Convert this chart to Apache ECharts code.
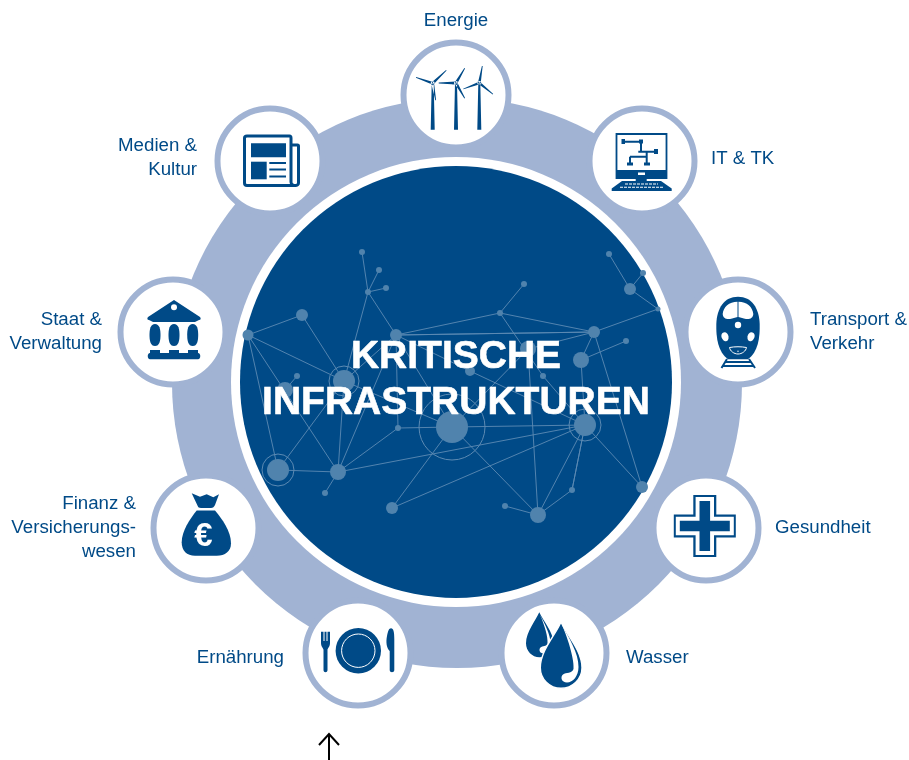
<!DOCTYPE html>
<html>
<head>
<meta charset="utf-8">
<title>Kritische Infrastrukturen</title>
<script src="https://cdn.jsdelivr.net/npm/echarts@6/dist/echarts.min.js"></script>
<style>
html, body { margin: 0; padding: 0; background: #fff; }
#main { width: 909px; height: 760px; }
</style>
</head>
<body>
<div id="main"></div>
<script>
// sectors round the ring, clockwise from the top
var sectors = ['Energie', 'IT & TK', 'Transport &\nVerkehr', 'Gesundheit', 'Wasser', 'Ernährung', 'Finanz &\nVersicherungs-\nwesen', 'Staat &\nVerwaltung', 'Medien &\nKultur'];
var hubX = [456, 642, 738, 706, 554, 358, 206, 173, 270];
var hubY = [95, 161, 332, 528, 653, 653, 528, 332, 161];
var labelX = [456, 711, 810, 775, 626, 284, 136, 102, 197];
var labelY = [21, 159, 332, 528, 658, 658, 528, 332, 158];
var labelSide = ['center', 'left', 'left', 'left', 'left', 'right', 'right', 'right', 'right'];

var titleLines = ['KRITISCHE', 'INFRASTRUKTUREN'];

// network inside the big circle
var nodeX = [362, 379, 386, 368, 396, 302, 248, 344, 297, 285, 278, 338, 325, 392, 398, 452, 524, 500, 594, 626, 581, 528, 543, 470, 585, 538, 505, 572, 642, 658, 630, 609, 643];
var nodeY = [252, 270, 288, 292, 335, 315, 335, 381, 376, 390, 470, 472, 493, 508, 428, 427, 284, 313, 332, 341, 360, 349, 376, 371, 425, 515, 506, 490, 487, 309, 289, 254, 273];
var nodeR = [3, 3, 3, 3, 6, 6, 5.5, 11, 3, 8, 11, 8, 3, 6, 3, 16, 3, 3, 6, 3, 8, 8, 3, 5, 11, 8, 3, 3, 6, 2.5, 6, 3, 3];
var nodeHalo = [0, 0, 0, 0, 0, 0, 0, 15, 0, 0, 16, 0, 0, 0, 0, 33, 0, 0, 0, 0, 0, 0, 0, 0, 16, 0, 0, 0, 0, 0, 0, 0, 0];
var linkFrom = [0, 1, 2, 3, 6, 5, 6, 6, 6, 10, 10, 7, 12, 11, 11, 11, 13, 13, 4, 4, 17, 17, 17, 4, 4, 23, 7, 14, 4, 7, 14, 21, 15, 15, 25, 25, 25, 27, 27, 24, 18, 28, 18, 29, 30, 30, 18, 20, 20, 18, 22, 9, 4];
var linkTo = [3, 3, 3, 4, 5, 7, 7, 10, 11, 11, 7, 11, 11, 14, 24, 4, 15, 24, 17, 18, 18, 16, 22, 23, 15, 24, 15, 15, 7, 3, 4, 15, 24, 25, 24, 21, 26, 25, 24, 27, 28, 24, 29, 30, 31, 32, 20, 19, 24, 21, 24, 8, 18];

var INK = '#004a87';
var RING = '#a1b3d3';
var NODE = '#5083ad';
var EDGE = '#5c8ab3';

function dark(d) { return { d: d, fill: INK }; }
function white(d) { return { d: d, fill: '#fff' }; }
function line(d, w, color, dash) { return { d: d, stroke: color || INK, w: w, dash: dash }; }
function circle(x, y, r) { return 'M' + (x - r) + ',' + y + 'A' + r + ',' + r + ',0,1,1,' + (x + r) + ',' + y + 'A' + r + ',' + r + ',0,1,1,' + (x - r) + ',' + y + 'Z'; }
function plus(x, y, arm, half) {
    return 'M' + (x - half) + ',' + (y - arm) + 'H' + (x + half) + 'V' + (y - half) + 'H' + (x + arm) + 'V' + (y + half) + 'H' + (x + half) + 'V' + (y + arm) + 'H' + (x - half) + 'V' + (y + half) + 'H' + (x - arm) + 'V' + (y - half) + 'H' + (x - half) + 'Z';
}
function turbine(x, y, tips) {
    var d = 'M' + (x - 1) + ',' + y + 'L' + (x + 1) + ',' + y + 'L' + (x + 2) + ',34.7L' + (x - 2) + ',34.7Z' + circle(x, y, 2);
    tips.forEach(function (t) {
        var nx = -(t[1] - y), ny = t[0] - x, len = Math.sqrt(nx * nx + ny * ny);
        nx = nx / len; ny = ny / len;
        d += 'M' + (x + nx * 1.4) + ',' + (y + ny * 1.4) + 'L' + (t[0] + nx * 0.4) + ',' + (t[1] + ny * 0.4) + 'L' + (t[0] - nx * 0.4) + ',' + (t[1] - ny * 0.4) + 'L' + (x - nx * 1.4) + ',' + (y - ny * 1.4) + 'Z';
    });
    return dark(d);
}

// icon drawings, offsets from the centre of each hub
var icons = [
    [
        turbine(-23.3, -11.7, [[-40, -17.7], [-9.7, -24.7], [-20.3, 5.3]]),
        turbine(0, -12, [[-17.3, -12], [8.7, -26.7], [8.7, 3.3]]),
        turbine(23.3, -12, [[26.3, -29], [7.3, -6], [37, -0.7]])
    ],
    [
        { d: 'M-25.5,-27H24.5V17H-25.5Z', fill: '#fff', stroke: INK, w: 1.8 },
        dark('M-25.5,9H24.5V17H-25.5Z'),
        white('M-4,11.5H3V14H-4Z'),
        dark('M-6.3,17H4.7V20H-6.3Z'),
        dark('M-20,20H19L29.7,27.5V30H-30.3V27.5Z'),
        line('M-17,23H16', 1.1, '#fff', [3, 1]),
        line('M-22,26.2H21', 1.1, '#fff', [3, 1]),
        line('M-18.7,-19.3H-1V-9.3M-3.7,-9.3H13.7M4.7,-9.3V3.3M-12,-4.3H4.7M-12,-4.3V3.3', 2),
        dark('M-20.5,-22H-17V-17H-20.5ZM-3,-21.5H1V-17.5H-3ZM12,-12H16V-7H12ZM-15,1.5H-9V4.5H-15ZM2,1.5H8V4.5H2Z')
    ],
    [
        dark('M0,-35.3C14,-35.3 21,-24 21.7,-8C22,6 20,20 10,27.3H-10C-20,20 -22,6 -21.7,-8C-21,-24 -14,-35.3 0,-35.3Z'),
        white('M-0.5,-30.3C-9,-30.3 -14.7,-25 -15.3,-18C-15,-14 -12,-12.5 -8,-13C-5,-13.5 -3,-14.5 -0.5,-15Z'),
        white('M0.5,-30.3C9,-30.3 14.7,-25 15.3,-18C15,-14 12,-12.5 8,-13C5,-13.5 3,-14.5 0.5,-15Z'),
        white(circle(0, -7, 3.2)),
        white('M-15.5,1C-13,-1 -10,1 -9.5,4.5C-9,8 -11,10 -13.5,9C-16,8 -18,3 -15.5,1Z'),
        white('M15.5,1C13,-1 10,1 9.5,4.5C9,8 11,10 13.5,9C16,8 18,3 15.5,1Z'),
        line('M-8.5,15.5C-3,14.5 3,14.5 8.5,15.5C8,19 4,22 0,22C-4,22 -8,19 -8.5,15.5Z', 1, '#fff'),
        white(circle(0, 19.2, 0.7)),
        line('M-11,27L-16.5,36M11,27L17,36M-13,30H13M-15.5,34H15.5', 2)
    ],
    [
        dark(plus(-1.2, -2, 31, 11.5)),
        white(plus(-1.2, -2, 29, 9.2)),
        dark(plus(-1.2, -2, 25, 5.3))
    ],
    [
        dark('M-14.7,-40.7C-18,-33 -28,-21 -28,-9.7C-28,-2 -22,4.3 -14.5,4.3C-7,4.3 -0.5,-2 -0.5,-9.7C-0.5,-21 -11.5,-33 -14.7,-40.7Z'),
        white('M-14,-38C-9,-29 -3.5,-18 -3.5,-10C-3.5,-3 -7,0.5 -10.5,0.5C-14.5,0.5 -15.5,-3.5 -13.5,-5.5C-11.5,-7.5 -7.5,-6 -6.5,-9.5C-6,-16 -9,-27 -14,-38Z'),
        { d: 'M7,-31.3C3,-20 -13.7,-3 -13.7,14.7C-13.7,26 -4.5,35.3 7,35.3C18.5,35.3 28,26 28,14.7C28,-3 11,-20 7,-31.3Z', fill: INK, stroke: '#fff', w: 1.4 },
        white('M8,-28C15,-15 24.5,0 24.5,14C24.5,23 19,29.5 13,29.5C7.5,29.5 6,24 9,21.5C12,19 18,21 19.5,16C20.5,8 15,-12 8,-28Z')
    ],
    [
        dark('M-37,-21.3V-10C-37,-6 -34.5,-5 -34.5,-3V17C-34.5,20 -30.5,20 -30.5,17V-3C-30.5,-5 -28,-6 -28,-10V-21.3Z'),
        line('M-34,-22V-12M-31,-22V-12', 1, '#fff'),
        dark(circle(0.3, -2.3, 22.7)),
        line(circle(0.3, -2.3, 16.7), 1, '#fff'),
        dark('M33,-24.7C35.5,-24.7 36.3,-21 36.3,-14V17C36.3,20 31.7,20 31.7,17V-2C28.5,-5 27.8,-11 29,-17C30,-22 31,-24.7 33,-24.7Z')
    ],
    [
        dark('M-14.3,-34.7L-6,-31.3L0.7,-33.7L7.3,-30.7L13,-33.7L9,-23C8,-21 7,-20 5,-20H-5C-7,-20 -8,-21 -8.3,-22Z'),
        dark('M-9.3,-17.5H9C16,-9 25,3 25,15.3C25,23.7 19,27.7 10.7,27.7H-11C-19.3,27.7 -24.3,23 -24.3,14.3C-24.3,3 -16,-9 -9.3,-17.5Z'),
        { text: '€', x: -2.5, y: 9, font: 'bold 33px "Liberation Sans"', fill: '#fff' }
    ],
    [
        dark('M1,-32L27,-15C28,-14 28,-12 26,-12L22,-10H-20L-24,-12C-26,-12 -26,-14 -25,-15Z'),
        white(circle(1, -24.7, 3)),
        dark('M-18,-8C-13.5,-8 -12.5,-3 -12.5,3C-12.5,9 -13.5,14 -18,14C-22.5,14 -23.5,9 -23.5,3C-23.5,-3 -22.5,-8 -18,-8Z'),
        dark('M1,-8C5.5,-8 6.5,-3 6.5,3C6.5,9 5.5,14 1,14C-3.5,14 -4.5,9 -4.5,3C-4.5,-3 -3.5,-8 1,-8Z'),
        dark('M19.7,-8C24.2,-8 25.2,-3 25.2,3C25.2,9 24.2,14 19.7,14C15.2,14 14.2,9 14.2,3C14.2,-3 15.2,-8 19.7,-8Z'),
        dark('M-23,18H-13V21H-23ZM-4,18H6V21H-4ZM15,18H25V21H15Z'),
        dark('M-23,21H25C28,21 28,27.3 25,27.3H-23C-26,27.3 -26,21 -23,21Z')
    ],
    [
        { d: 'M21,-16H27.5C28,-16 28.5,-15.5 28.5,-15V22C28.5,23.5 27,24.5 25.5,24.5H-23C-24.5,24.5 -25.5,23.5 -25.5,22V-23C-25.5,-24 -24.5,-25 -23,-25H19.5C20.5,-25 21,-24 21,-23V21C21,23 23,24.5 25.5,24.5', stroke: INK, w: 3 },
        dark('M-19,-17.7H16V-3.7H-19Z'),
        dark('M-19,0.7H-3.3V18.3H-19Z'),
        line('M-0.7,2H16M-0.7,8.5H16M-0.7,15.5H16', 2)
    ]
];

var chart = echarts.init(document.getElementById('main'), null, { renderer: 'canvas' });

function renderRing(params, api) {
    var c = api.coord([api.value(0), api.value(1)]);
    return {
        type: 'group',
        children: [
            { type: 'circle', shape: { cx: c[0] + 1, cy: c[1] + 1, r: 285 }, style: { fill: RING } },
            { type: 'circle', shape: { cx: c[0], cy: c[1], r: 225 }, style: { fill: '#fff' } },
            { type: 'circle', shape: { cx: c[0], cy: c[1], r: 216 }, style: { fill: INK } }
        ]
    };
}

function renderHalo(params, api) {
    var c = api.coord([api.value(0), api.value(1)]);
    return {
        type: 'circle',
        shape: { cx: c[0], cy: c[1], r: api.value(2) },
        style: { fill: 'none', stroke: EDGE, lineWidth: 1 }
    };
}

function renderHub(params, api) {
    var c = api.coord([api.value(0), api.value(1)]);
    var kids = [{ type: 'circle', shape: { cx: 0, cy: 0, r: 52.5 }, style: { fill: '#fff', stroke: RING, lineWidth: 6 } }];
    icons[params.dataIndex].forEach(function (part) {
        if (part.text) {
            kids.push({ type: 'text', x: part.x, y: part.y, style: { text: part.text, font: part.font, fill: part.fill, align: 'center', verticalAlign: 'middle' } });
        } else {
            kids.push({
                type: 'path',
                shape: { pathData: part.d },
                style: { fill: part.fill || 'none', stroke: part.stroke || 'none', lineWidth: part.w || 0, lineDash: part.dash || null, lineCap: 'butt' }
            });
        }
    });
    return { type: 'group', x: c[0], y: c[1], children: kids };
}

function renderLabel(params, api) {
    var c = api.coord([api.value(0), api.value(1)]);
    return {
        type: 'text',
        x: c[0],
        y: c[1],
        style: {
            text: sectors[params.dataIndex],
            font: '18.7px "Liberation Sans"',
            lineHeight: 24,
            fill: INK,
            align: labelSide[params.dataIndex],
            verticalAlign: 'middle'
        }
    };
}

var ringData = [[456, 382]];
var hubData = hubX.map(function (x, i) { return [x, hubY[i]]; });
var labelData = labelX.map(function (x, i) { return [x, labelY[i]]; });
var nodeData = nodeX.map(function (x, i) {
    return { value: [x, nodeY[i]], symbolSize: nodeR[i] * 2 };
});
var haloData = [];
nodeHalo.forEach(function (r, i) {
    if (r > 0) { haloData.push([nodeX[i], nodeY[i], r]); }
});
var linkData = linkFrom.map(function (s, i) { return { source: s, target: linkTo[i] }; });

var option = {
    animation: false,
    grid: { left: 0, right: 0, top: 0, bottom: 0 },
    xAxis: { type: 'value', min: 0, max: 909, show: false },
    yAxis: { type: 'value', min: 0, max: 760, inverse: true, show: false },
    series: [
        { type: 'custom', z: 1, silent: true, renderItem: renderRing, data: ringData, clip: false },
        {
            type: 'graph',
            z: 2,
            silent: true,
            coordinateSystem: 'cartesian2d',
            layout: 'none',
            data: nodeData,
            links: linkData,
            symbol: 'circle',
            itemStyle: { color: NODE },
            lineStyle: { color: EDGE, width: 0.9, opacity: 1, curveness: 0 },
            label: { show: false }
        },
        { type: 'custom', z: 3, silent: true, renderItem: renderHalo, data: haloData },
        { type: 'custom', z: 4, silent: true, renderItem: renderHub, data: hubData },
        { type: 'custom', z: 5, silent: true, renderItem: renderLabel, data: labelData, clip: false },
        {
            type: 'custom',
            z: 6,
            silent: true,
            data: [[456, 357], [456, 403]],
            renderItem: function (params, api) {
                var c = api.coord([api.value(0), api.value(1)]);
                return {
                    type: 'text',
                    x: c[0],
                    y: c[1],
                    style: {
                        text: titleLines[params.dataIndex],
                        font: 'bold 39px "Liberation Sans"',
                        fill: '#fff',
                        stroke: '#fff',
                        lineWidth: 0.6,
                        align: 'center',
                        verticalAlign: 'middle'
                    }
                };
            }
        },
        {
            type: 'custom',
            z: 7,
            silent: true,
            clip: false,
            data: [[329, 734]],
            renderItem: function (params, api) {
                var c = api.coord([api.value(0), api.value(1)]);
                return {
                    type: 'path',
                    x: c[0],
                    y: c[1],
                    shape: { pathData: 'M0,0V26M-10,11L0,0L10,11' },
                    style: { fill: 'none', stroke: '#000', lineWidth: 2 }
                };
            }
        }
    ]
};

chart.setOption(option);
window.addEventListener('resize', chart.resize);
</script>
</body>
</html>
